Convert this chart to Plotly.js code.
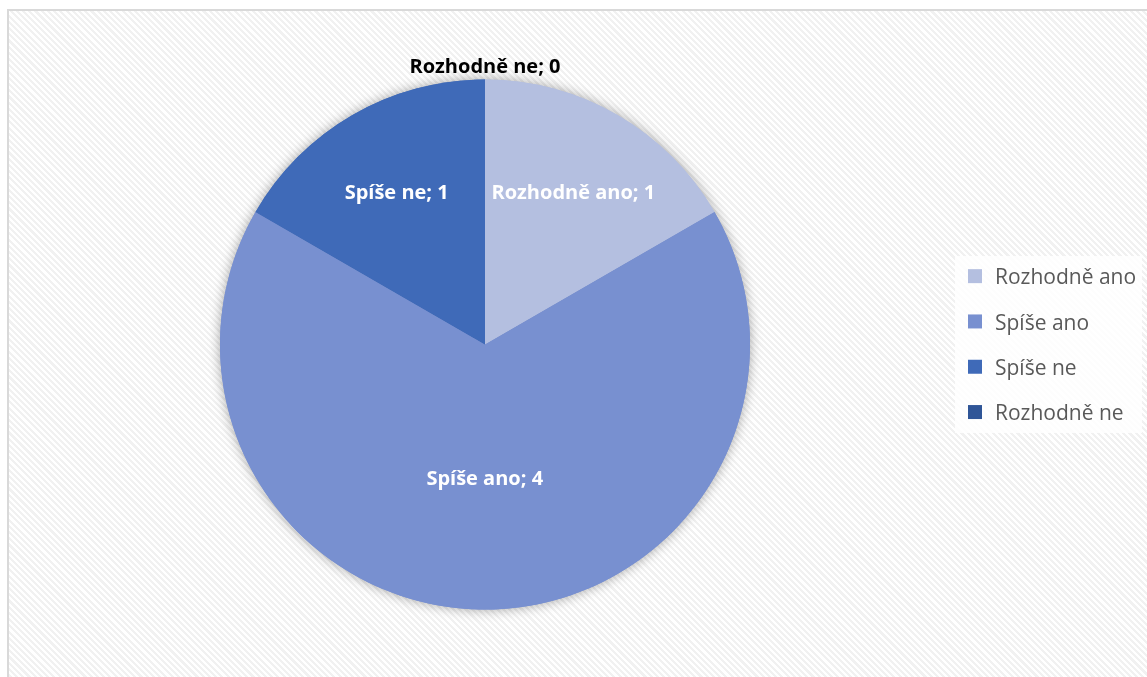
<!DOCTYPE html>
<html>
<head>
<meta charset="utf-8">
<script src="https://cdn.plot.ly/plotly-3.0.1.min.js"></script>
<style>
  html, body { margin: 0; padding: 0; background: #ffffff; overflow: hidden; }
  #frame {
    position: absolute; left: 7px; top: 9px; width: 1170px; height: 700px;
    border: 2px solid #d9d9d9;
    background: repeating-linear-gradient(45deg, #ffffff 0px, #ffffff 2.2px, #f1f1f1 2.2px, #f1f1f1 4.4px);
  }
  #chart { position: absolute; left: 0; top: 0; width: 1147px; height: 677px; }
  #chart .pielayer .trace:first-child { filter: drop-shadow(0px 0px 6px rgba(0,0,0,0.35)); }
</style>
</head>
<body>
<div id="frame"></div>
<div id="chart"></div>
<script>
const categories = ['Rozhodně ano', 'Spíše ano', 'Spíše ne', 'Rozhodně ne'];
const values = [1, 4, 1, 0];
const sliceColors = ['#b4bfe0', '#7890d0', '#3f6ab8', '#2f5597'];
const labelColors = ['#ffffff', '#ffffff', '#ffffff', '#000000'];

const W = 1147, H = 677;
const cx = 485, cy = 345, r = 265, titleSpace = 28;
const pieDomain = {
  x: [(cx - r) / W, (cx + r) / W],
  y: [1 - (cy + r) / H, 1 - (cy - r - titleSpace) / H]
};
const labelFont = '"Open Sans", Lato, sans-serif';
const labelSize = 20;

// zero-valued slices get their label above the pie (as in the source chart)
const zeroIdx = values.findIndex(v => v === 0);
const textPositions = values.map(v => (v === 0 ? 'none' : 'inside'));
const zeroLabel = zeroIdx >= 0 ? '<b>' + categories[zeroIdx] + '; ' + values[zeroIdx] + '</b>' : '';

function pieTrace(withText) {
  return {
    type: 'pie',
    labels: categories,
    values: values,
    sort: false,
    direction: 'clockwise',
    rotation: 0,
    marker: { colors: sliceColors, line: { width: 0 } },
    texttemplate: '<b>%{label}; %{value}</b>',
    textposition: withText ? textPositions : 'none',
    insidetextorientation: 'horizontal',
    textfont: { family: labelFont, size: labelSize, color: labelColors },
    hoverinfo: 'none',
    showlegend: false,
    domain: pieDomain,
    title: {
      text: zeroLabel,
      position: 'top center',
      font: { family: labelFont, size: labelSize,
              color: withText ? labelColors[zeroIdx] : 'rgba(0,0,0,0)' }
    }
  };
}

// legend entries (one per category)
const legendTraces = categories.map((c, i) => ({
  type: 'scatter',
  x: [null], y: [null],
  mode: 'markers',
  name: c,
  legendgroup: 'g' + i,
  marker: { symbol: 'square', size: 14, color: sliceColors[i] },
  hoverinfo: 'none',
  showlegend: true
}));

const layout = {
  width: W, height: H,
  margin: { l: 0, r: 0, t: 0, b: 0 },
  paper_bgcolor: 'rgba(0,0,0,0)',
  plot_bgcolor: 'rgba(0,0,0,0)',
  xaxis: { visible: false, showgrid: false, zeroline: false },
  yaxis: { visible: false, showgrid: false, zeroline: false },
  showlegend: true,
  legend: {
    x: 955 / W, y: 1 - 256 / H, xanchor: 'left', yanchor: 'top',
    bgcolor: 'rgba(255,255,255,0.85)', borderwidth: 0,
    font: { family: labelFont, size: 21, color: '#595959' },
    traceorder: 'grouped',
    tracegroupgap: 15
  },
  font: { family: labelFont }
};

Plotly.newPlot('chart', [pieTrace(false), pieTrace(true)].concat(legendTraces), layout, { staticPlot: true, displayModeBar: false });
</script>
</body>
</html>
